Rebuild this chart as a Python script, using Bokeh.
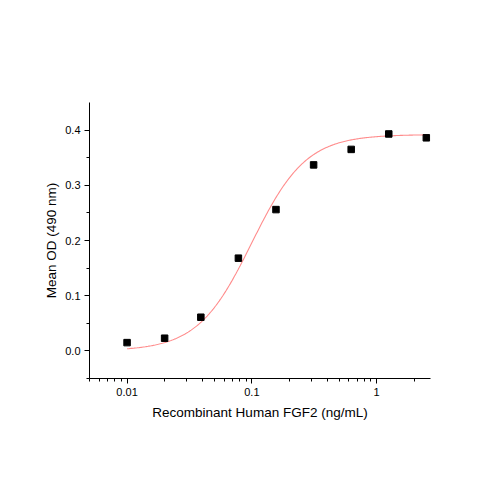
import numpy as np
from bokeh.plotting import figure
from bokeh.models import FixedTicker, ColumnDataSource
from bokeh.embed import file_html
from bokeh.resources import INLINE

# Data points
conc = [0.01, 0.02, 0.039, 0.078, 0.156, 0.3125, 0.625, 1.25, 2.5]
mean_od = [0.015, 0.023, 0.061, 0.168, 0.256, 0.337, 0.365, 0.393, 0.386]

# Fitted 4-parameter logistic curve (as drawn in the reference)
fit_bottom = 0.0
fit_top = 0.392
fit_ec50 = 0.1
fit_hill = 2.0

x_ticks = [0.01, 0.1, 1]
x_tick_labels = ["0.01", "0.1", "1"]
x_minor = [0.005, 0.006, 0.007, 0.008, 0.009,
           0.02, 0.03, 0.04, 0.05, 0.06, 0.07, 0.08, 0.09,
           0.2, 0.3, 0.4, 0.5, 0.6, 0.7, 0.8, 0.9, 2]
y_ticks = [0.0, 0.1, 0.2, 0.3, 0.4]
y_tick_labels = ["0.0", "0.1", "0.2", "0.3", "0.4"]
y_minor = [-0.05, 0.05, 0.15, 0.25, 0.35]

FONT = "Liberation Sans"

p = figure(width=480, height=480, x_axis_type="log",
           x_range=(0.005, 2.7), y_range=(-0.05, 0.45),
           output_backend="svg", toolbar_location=None,
           min_border_left=89, min_border_right=50,
           min_border_top=102, min_border_bottom=102)
p.outline_line_color = None
p.xgrid.visible = False
p.ygrid.visible = False
p.background_fill_color = "white"
p.border_fill_color = "white"

xc = np.logspace(np.log10(conc[0]), np.log10(conc[-1]), 300)
yc = fit_bottom + (fit_top - fit_bottom) / (1 + (fit_ec50 / xc) ** fit_hill)
p.line(xc, yc, line_color="#ff8c8c", line_width=1.1)

src = ColumnDataSource(dict(x=conc, y=mean_od))
p.scatter("x", "y", source=src, marker="square", size=6.5,
          fill_color="black", line_color="black")

xa = p.xaxis[0]
xa.ticker = FixedTicker(ticks=x_ticks, minor_ticks=x_minor)
xa.major_label_overrides = {t: l for t, l in zip(x_ticks, x_tick_labels)}
ya = p.yaxis[0]
ya.ticker = FixedTicker(ticks=y_ticks, minor_ticks=y_minor)
ya.major_label_overrides = {t: l for t, l in zip(y_ticks, y_tick_labels)}

xa.axis_label = "Recombinant Human FGF2 (ng/mL)"
ya.axis_label = "Mean OD (490 nm)"

for ax in (xa, ya):
    ax.axis_line_color = "black"
    ax.major_tick_line_color = "black"
    ax.minor_tick_line_color = "black"
    ax.major_tick_out = 5
    ax.major_tick_in = 0
    ax.minor_tick_out = 3
    ax.minor_tick_in = 0
    ax.major_label_text_font = FONT
    ax.major_label_text_font_size = "11px"
    ax.major_label_text_color = "black"
    ax.axis_label_text_font = FONT
    ax.axis_label_text_font_size = "13.5px"
    ax.axis_label_text_font_style = "normal"
    ax.axis_label_text_color = "black"
    ax.major_label_standoff = 4
xa.axis_label_standoff = 6
ya.axis_label_standoff = 3

open("out.html", "w").write(file_html(p, INLINE))
